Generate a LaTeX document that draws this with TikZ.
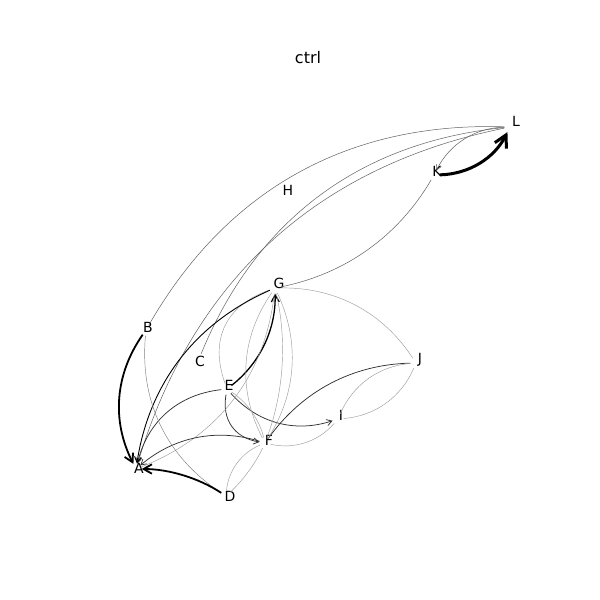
\documentclass[tikz,border=0pt]{standalone}
\usepackage{fontspec}
\setmainfont{DejaVu Sans}
\usetikzlibrary{calc,arrows.meta}
\tikzset{
  vtx/.style={circle,inner sep=0pt,minimum size=11pt},
  lbl/.style={inner sep=0pt,font=\fontsize{14}{16}\selectfont},
  lite/.style={draw=black!38,line width=0.45pt},
  midl/.style={draw=black!62,line width=0.5pt},
  dark/.style={draw=black!80,line width=0.75pt},
  bold/.style={draw=black,line width=#1},
  head/.style={-{Straight Barb[length=3pt 3,width=4pt 3]}},
}
\newcommand\cedge[4][]{%
  \coordinate (cm) at ($(#2)!0.5!(#3)$);
  \coordinate (cc) at ($(cm)!#4!-90:(#3)$);
  \draw[#1] (#2) .. controls ($(#2)!0.6667!(cc)$) and ($(#3)!0.6667!(cc)$) .. (#3);}
\begin{document}
\begin{tikzpicture}[x=1pt,y=-1pt]
\fill[white] (0,0) rectangle (600,600);
\useasboundingbox (0,0) rectangle (600,600);
\node[font=\fontsize{16}{18}\selectfont] (title) at (308,58) {ctrl};
% vertices (edge ends) and their labels
\node[vtx] (L) at (510,127) {};  \node[lbl] (Ll) at (516,121) {L};
\node[vtx] (K) at (434,175) {};  \node[lbl] (Kl) at (437,171) {K};
\node[vtx] (H) at (286,193) {};  \node[lbl] (Hl) at (288,190) {H};
\node[vtx] (G) at (275,288) {};  \node[lbl] (Gl) at (279,283) {G};
\node[vtx] (B) at (146,330) {};  \node[lbl] (Bl) at (148,327) {B};
\node[vtx] (C) at (199,359) {};  \node[lbl] (Cl) at (200,361) {C};
\node[vtx] (J) at (416,363) {};  \node[lbl] (Jl) at (420,360) {J};
\node[vtx] (E) at (227,389) {};  \node[lbl] (El) at (229,385) {E};
\node[vtx] (I) at (338,419) {};  \node[lbl] (Il) at (341,415) {I};
\node[vtx] (F) at (265,443) {};  \node[lbl] (Fl) at (269,440) {F};
\node[vtx] (A) at (136,469) {};  \node[lbl] (Al) at (139,468) {A};
\node[vtx] (D) at (226,496) {};  \node[lbl] (Dl) at (230,496) {D};
% edges from L
\cedge[midl]{L}{B}{0.6}
\cedge[midl]{L}{C}{0.6}
\cedge[midl]{L}{A}{0.6}
\cedge[midl,head]{L}{K}{0.6}
\cedge[bold=3pt,head]{K}{L}{0.6}
\cedge[midl]{G}{K}{0.45}
% J, I
\cedge[lite]{J}{G}{0.55}
\cedge[dark]{J}{F}{0.5}
\cedge[lite]{J}{I}{0.6}
\cedge[lite]{I}{J}{0.6}
% E
\cedge[dark,head]{E}{I}{0.65}
\cedge[dark,head]{E}{F}{1.0}
\cedge[lite]{F}{E}{0.4}
\cedge[bold=1.3pt,head]{E}{G}{0.5}
\cedge[lite]{G}{E}{1.0}
\cedge[dark,head]{E}{A}{0.7}
% G
\cedge[bold=0.9pt,head]{G}{A}{0.55}
\cedge[lite]{A}{G}{0.6}
\cedge[lite]{G}{F}{0.6}
\cedge[lite]{F}{G}{0.55}
\cedge[lite]{F}{G}{0.3}
% F
\cedge[dark,head]{F}{A}{0.55}
\cedge[lite]{F}{I}{0.6}
\cedge[lite]{F}{D}{0.6}
\cedge[lite]{D}{F}{0.2}
% B, D
\cedge[draw=black!50,line width=0.45pt]{B}{D}{0.6}
\cedge[bold=1.8pt,head]{B}{A}{0.6}
\cedge[bold=1.8pt,head]{D}{A}{0.3}
\end{tikzpicture}
\end{document}
